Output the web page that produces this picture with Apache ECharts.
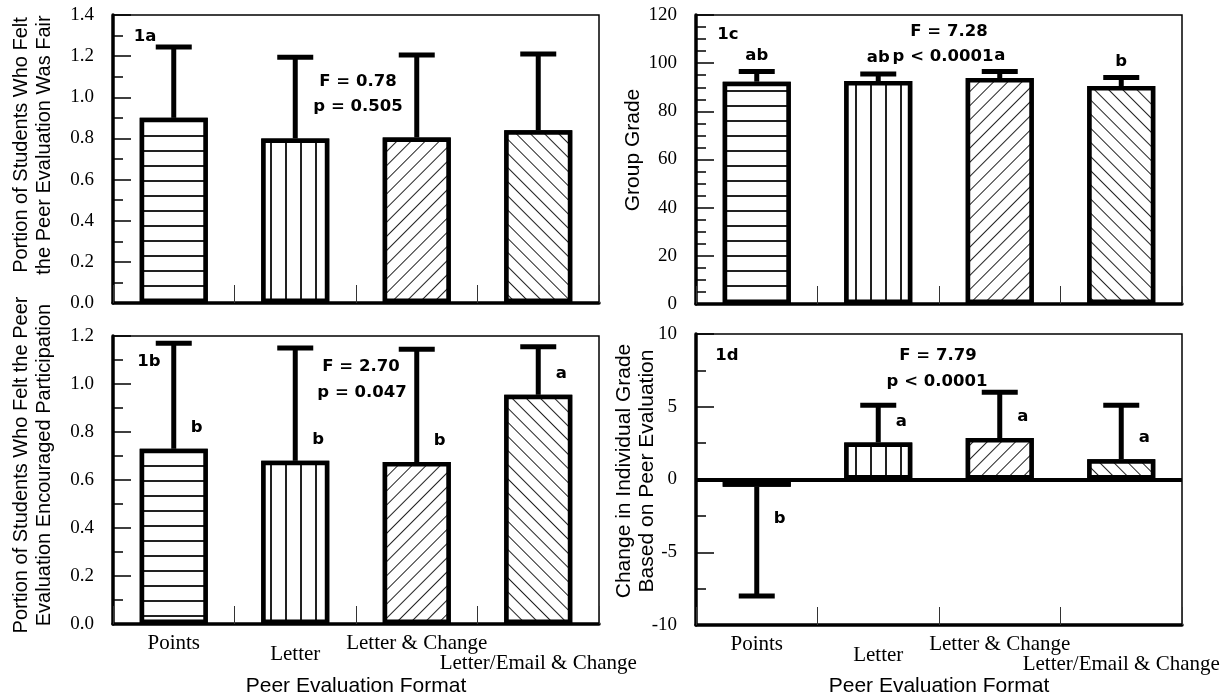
<!DOCTYPE html>
<html><head><meta charset="utf-8">
<script src="https://cdn.jsdelivr.net/npm/echarts@6/dist/echarts.min.js"></script>
<style>html,body{margin:0;padding:0;background:#fff}#c{width:1227px;height:698px}</style>
</head><body><div id="c"></div>
<script>
// ---- data ----
const categories = ['Points', 'Letter', 'Letter & Change', 'Letter/Email & Change'];

const fairMean  = [0.90, 0.80, 0.805, 0.84];
const fairUpper = [1.245, 1.195, 1.205, 1.21];

const encMean   = [0.73, 0.68, 0.675, 0.955];
const encUpper  = [1.17, 1.15, 1.145, 1.155];
const encLetters = ['b', 'b', 'b', 'a'];

const gradeMean  = [92.3, 92.6, 93.8, 90.5];
const gradeUpper = [96.5, 95.5, 96.5, 94.0];
const gradeLetters = ['ab', 'ab', 'a', 'b'];

const changeMean = [-0.5, 2.55, 2.85, 1.4];
const changeEnd  = [-8.0, 5.1, 6.0, 5.1];
const changeLetters = ['b', 'a', 'a', 'a'];

const fairTicks   = [0.0, 0.2, 0.4, 0.6, 0.8, 1.0, 1.2, 1.4];
const encTicks    = [0.0, 0.2, 0.4, 0.6, 0.8, 1.0, 1.2];
const gradeTicks  = [0, 20, 40, 60, 80, 100, 120];
const changeTicks = [-10, -5, 0, 5, 10];

// ---- styles ----
const BOLD = 'bold 16.5px "DejaVu Sans"';
const hatch = [
  {symbol: 'rect', symbolSize: 1, symbolKeepAspect: false, dashArrayX: [10, 0], dashArrayY: [2, 13], color: '#222', backgroundColor: '#fff'},
  {symbol: 'rect', symbolSize: 1, symbolKeepAspect: false, dashArrayX: [2, 13], dashArrayY: [10, 0], color: '#222', backgroundColor: '#fff'},
  {symbol: 'rect', symbolSize: 1, symbolKeepAspect: false, dashArrayX: [1, 9], dashArrayY: [10, 0], rotation: Math.PI / 4, color: '#222', backgroundColor: '#fff'},
  {symbol: 'rect', symbolSize: 1, symbolKeepAspect: false, dashArrayX: [1, 9], dashArrayY: [10, 0], rotation: -Math.PI / 4, color: '#222', backgroundColor: '#fff'}
];

const grids = [
  {left: 113, right: 628, top: 15, height: 288},
  {left: 113, right: 628, top: 336, height: 288},
  {left: 696, right: 45, top: 15, height: 289},
  {left: 696, right: 45, top: 334, height: 291}
].map(g => Object.assign({show: true, borderColor: '#000', borderWidth: 1.5, backgroundColor: '#fff'}, g));

const serif = 'Liberation Serif';
function xAx(g, showLabels) {
  return {
    type: 'category', gridIndex: g, data: categories, boundaryGap: true,
    axisLine: {show: true, onZero: false, lineStyle: {color: '#000', width: 3.5}},
    axisTick: {show: true, inside: true, length: 18, lineStyle: {color: '#333', width: 1}},
    axisLabel: {
      show: showLabels, interval: 0, margin: 8,
      formatter: (v, i) => '{l' + i + '|' + v + '}',
      rich: {
        l0: {fontFamily: serif, fontSize: 21, color: '#000', lineHeight: 22},
        l1: {fontFamily: serif, fontSize: 21, color: '#000', lineHeight: 44},
        l2: {fontFamily: serif, fontSize: 21, color: '#000', lineHeight: 22},
        l3: {fontFamily: serif, fontSize: 21, color: '#000', lineHeight: 62}
      }
    },
    splitLine: {show: false}
  };
}
function yAx(g, ticks, minorSplit, fmt) {
  return {
    type: 'value', gridIndex: g, min: ticks[0], max: ticks[ticks.length - 1],
    interval: ticks[1] - ticks[0],
    axisLine: {show: true, lineStyle: {color: '#000', width: 3.5}},
    axisTick: {show: true, inside: true, length: 18, lineStyle: {color: '#000', width: 1.5}},
    minorTick: {show: true, splitNumber: minorSplit, length: 10, lineStyle: {color: '#000', width: 1.5}},
    axisLabel: {margin: 19, fontFamily: serif, fontSize: 19, color: '#000', padding: [8, 0, 0, 0],
      showMinLabel: true, showMaxLabel: true, formatter: fmt},
    splitLine: {show: false}, minorSplitLine: {show: false}
  };
}
function barSeries(g, means, extra) {
  return Object.assign({
    type: 'bar', xAxisIndex: g, yAxisIndex: g, barWidth: '56%', silent: true,
    itemStyle: {color: '#fff', borderColor: '#000', borderWidth: 4.5},
    data: means.map((v, i) => ({value: v, itemStyle: {decal: hatch[i]}}))
  }, extra || {});
}
// letterMode: 'top' -> centred above the whisker end; 'side' -> right of whisker, near the bar end
function errSeries(g, means, ends, letters, letterMode) {
  return {
    type: 'custom', xAxisIndex: g, yAxisIndex: g, z: 5, silent: true,
    data: means.map((m, i) => [i, m, ends[i]]),
    renderItem: function (params, api) {
      const i = params.dataIndex;
      const p0 = api.coord([api.value(0), api.value(1)]);
      const p1 = api.coord([api.value(0), api.value(2)]);
      const cap = 36;
      const kids = [
        {type: 'line', shape: {x1: p0[0], y1: p0[1], x2: p1[0], y2: p1[1]}, style: {stroke: '#000', lineWidth: 5}},
        {type: 'line', shape: {x1: p1[0] - cap / 2, y1: p1[1], x2: p1[0] + cap / 2, y2: p1[1]}, style: {stroke: '#000', lineWidth: 5}}
      ];
      if (letters) {
        let x, y;
        if (letterMode === 'top') { x = p1[0]; y = p1[1] - 16; }
        else { x = p0[0] + 23; y = api.value(1) >= 0 ? p0[1] - 21 : p0[1] + 32; }
        kids.push({type: 'text', x: x, y: y, style: {text: letters[i], font: BOLD, fill: '#000',
          textAlign: 'center', textVerticalAlign: 'middle', align: 'center', verticalAlign: 'middle'}});
      }
      return {type: 'group', children: kids};
    }
  };
}
function txt(x, y, text, font, rot) {
  return {type: 'text', x: x, y: y, rotation: rot || 0, silent: true,
    style: {text: text, font: font, fill: '#000', textAlign: 'center', textVerticalAlign: 'middle',
      align: 'center', verticalAlign: 'middle', lineHeight: 23}};
}
const f1 = v => v.toFixed(1);
const f0 = v => String(v);
const R = Math.PI / 2;

const option = {
  animation: false,
  backgroundColor: '#fff',
  grid: grids,
  xAxis: [xAx(0, false), xAx(1, true), xAx(2, false), xAx(3, true)],
  yAxis: [yAx(0, fairTicks, 2, f1), yAx(1, encTicks, 2, f1), yAx(2, gradeTicks, 4, f0), yAx(3, changeTicks, 2, f0)],
  series: [
    barSeries(0, fairMean),
    barSeries(1, encMean),
    barSeries(2, gradeMean),
    barSeries(3, changeMean, {markLine: {silent: true, symbol: ['none', 'none'], label: {show: false},
      lineStyle: {color: '#000', width: 4, type: 'solid'}, data: [{yAxis: 0}]}}),
    errSeries(0, fairMean, fairUpper, null),
    errSeries(1, encMean, encUpper, encLetters, 'side'),
    errSeries(2, gradeMean, gradeUpper, gradeLetters, 'top'),
    errSeries(3, changeMean, changeEnd, changeLetters, 'side')
  ],
  graphic: [
    txt(33, 145, 'Portion of Students Who Felt\nthe Peer Evaluation Was Fair', '20px "Liberation Sans"', R),
    txt(33, 465, 'Portion of Students Who Felt the Peer\nEvaluation Encouraged Participation', '20px "Liberation Sans"', R),
    txt(633, 150, 'Group Grade', '21px "Liberation Sans"', R),
    txt(636, 471, 'Change in Individual Grade\nBased on Peer Evaluation', '21px "Liberation Sans"', R),
    txt(356, 686, 'Peer Evaluation Format', '21px "Liberation Sans"'),
    txt(939, 686, 'Peer Evaluation Format', '21px "Liberation Sans"'),
    txt(145, 37, '1a', BOLD), txt(358, 82, 'F = 0.78', BOLD), txt(358, 107, 'p = 0.505', BOLD),
    txt(149, 362, '1b', BOLD), txt(361, 367, 'F = 2.70', BOLD), txt(362, 393, 'p = 0.047', BOLD),
    txt(728, 35, '1c', BOLD), txt(949, 32, 'F = 7.28', BOLD), txt(943, 57, 'p < 0.0001', BOLD),
    txt(727, 356, '1d', BOLD), txt(938, 356, 'F = 7.79', BOLD), txt(937, 382, 'p < 0.0001', BOLD)
  ]
};
const chart = echarts.init(document.getElementById('c'), null, {renderer: 'canvas'});
chart.setOption(option);
</script></body></html>
